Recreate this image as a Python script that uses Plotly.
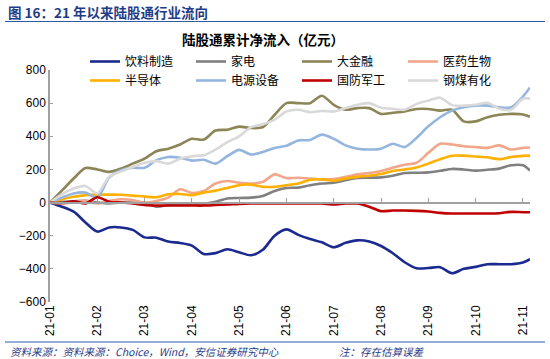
import plotly.graph_objects as go

# month index (0 = 21-01); weekly-ish sampling
months = [0, 0.25, 0.5, 0.75, 1, 1.25, 1.5, 1.75, 2, 2.25, 2.5, 2.75, 3, 3.25, 3.5, 3.75,
          4, 4.25, 4.5, 4.75, 5, 5.25, 5.5, 5.75, 6, 6.25, 6.5, 6.75, 7, 7.25, 7.5, 7.75,
          8, 8.25, 8.5, 8.75, 9, 9.25, 9.5, 9.75, 10, 10.15]

tick_pos = [0, 1, 2, 3, 4, 5, 6, 7, 8, 9, 10]
tick_labels = ["21-01", "21-02", "21-03", "21-04", "21-05", "21-06",
               "21-07", "21-08", "21-09", "21-10", "21-11"]

beverage = [0, -25, -55, -120, -175, -150, -150, -165, -210, -212, -235, -244, -260, -310,
            -305, -282, -300, -318, -285, -200, -162, -195, -220, -240, -270, -243, -228,
            -235, -262, -306, -360, -396, -395, -390, -426, -400, -388, -372, -372, -372,
            -362, -342]
appliance = [0, 5, 8, 10, 0, -5, 0, 0, 0, -25, -15, -10, -10, -8, 5, 25, 28, 30, 40, 70,
             88, 90, 105, 115, 120, 135, 148, 150, 152, 162, 178, 180, 182, 192, 203, 200,
             193, 198, 205, 225, 225, 193]
finance = [0, 72, 145, 208, 200, 185, 205, 235, 265, 310, 325, 350, 385, 380, 435, 440,
           458, 450, 455, 530, 600, 600, 600, 645, 590, 560, 570, 570, 535, 542, 550, 565,
           565, 555, 560, 490, 490, 515, 530, 535, 532, 518]
pharma = [0, -5, 0, 10, -5, 10, 20, 15, 0, 10, 30, 80, 58, 70, 115, 130, 120, 115, 125,
          170, 148, 150, 145, 140, 142, 155, 170, 178, 190, 210, 228, 240, 300, 355, 350,
          340, 335, 330, 345, 320, 330, 332]
semis = [0, 20, 35, 45, 48, 48, 47, 42, 36, 32, 50, 52, 45, 60, 72, 88, 105, 108, 95, 95,
         105, 115, 138, 140, 132, 145, 155, 162, 172, 190, 200, 212, 235, 262, 283, 283,
         278, 273, 262, 275, 282, 283]
power = [0, 30, 55, 60, 30, 150, 195, 210, 210, 255, 275, 270, 253, 258, 235, 280, 318,
         290, 305, 330, 343, 375, 378, 410, 385, 345, 325, 320, 325, 355, 335, 390, 460,
         515, 555, 575, 585, 585, 575, 575, 640, 695]
defense = [0, -3, 8, -5, 32, 5, 0, -5, -15, -18, -18, -18, -18, -18, -15, -12, -8, -6, -6,
           -6, -6, -6, -6, -6, -12, -6, -6, -25, -52, -48, -48, -50, -54, -62, -66, -66,
           -66, -66, -64, -56, -58, -58]
materials = [0, 50, 85, 100, 55, 155, 188, 215, 240, 250, 235, 265, 280, 285, 320, 365,
             400, 455, 472, 500, 550, 560, 545, 553, 550, 570, 590, 600, 572, 566, 560, 595,
             615, 633, 588, 585, 590, 602, 566, 560, 627, 627]

series_names = ["饮料制造", "家电", "大金融", "医药生物", "半导体", "电源设备", "国防军工", "钢煤有化"]
series_values = [beverage, appliance, finance, pharma, semis, power, defense, materials]
series_colors = ["#1B2A8F", "#808080", "#8C8556", "#F2A68A", "#FFB000", "#94B6DE",
                 "#C00000", "#D9D9D9"]

fig = go.Figure()
for name, vals, col in zip(series_names, series_values, series_colors):
    fig.add_trace(go.Scatter(
        x=months, y=vals, name=name, mode="lines",
        line=dict(color=col, width=2.6, shape="spline", smoothing=0.8),
        xaxis="x2" if name == "国防军工" else "x",
        hoverinfo="skip"))

L, R, T, B = 50, 20, 70, 57
W, H = 550, 359
pw, ph = W - L - R, H - T - B


def px(xp):
    return (xp - L) / pw


def py(yp):
    return (H - B - yp) / ph


ymin, ymax = -600, 800
tickfont = dict(family="Liberation Sans, Arial, sans-serif", size=12, color="#000000")

fig.update_layout(
    width=W, height=H,
    margin=dict(l=L, r=R, t=T, b=B, autoexpand=False),
    paper_bgcolor="white", plot_bgcolor="white",
    showlegend=True,
    legend=dict(orientation="h", x=px(85), y=py(47), xanchor="left", yanchor="top",
                entrywidth=61, entrywidthmode="pixels",
                font=dict(family="Noto Sans CJK SC", size=12, color="#000000"),
                bgcolor="rgba(0,0,0,0)", itemwidth=30, tracegroupgap=0),
    xaxis=dict(range=[0, 10.15], tickvals=tick_pos, ticktext=tick_labels,
               tickangle=-90, showgrid=False, zeroline=False, showline=False,
               ticks="", tickfont=tickfont, automargin=False),
    xaxis2=dict(overlaying="x", matches="x", anchor="free",
                position=(0 - ymin) / (ymax - ymin), side="bottom",
                tickvals=tick_pos, showticklabels=False, ticks="inside", ticklen=4,
                tickcolor="#A0A0A0", showline=True, linecolor="#A0A0A0", linewidth=1.5,
                showgrid=False, zeroline=False),
    yaxis=dict(range=[ymin, ymax], tickvals=[-600, -400, -200, 0, 200, 400, 600, 800],
               showgrid=False, zeroline=False, showline=True, linecolor="#A0A0A0",
               linewidth=1.5, ticks="inside", ticklen=3, tickcolor="#A0A0A0",
               tickfont=tickfont, automargin=False),
)

fig.add_annotation(text="<b>图 16：21 年以来陆股通行业流向</b>", xref="paper", yref="paper",
                   x=px(6), y=py(12), xanchor="left", yanchor="middle", showarrow=False,
                   font=dict(family="Noto Sans CJK SC", size=13.5, color="#1F3C88"))
fig.add_shape(type="line", xref="paper", yref="paper", x0=px(5), x1=px(545),
              y0=py(21.5), y1=py(21.5), line=dict(color="#2F5AA8", width=1.2))
fig.add_annotation(text="<b>陆股通累计净流入（亿元）</b>", xref="paper", yref="paper",
                   x=px(263), y=py(39), xanchor="center", yanchor="middle", showarrow=False,
                   font=dict(family="Noto Sans CJK SC", size=13.5, color="#000000"))
fig.add_shape(type="line", xref="paper", yref="paper", x0=px(5), x1=px(545),
              y0=py(342), y1=py(342), line=dict(color="#2F5AA8", width=1))
fig.add_annotation(text="<i>资料来源：资料来源：Choice，Wind，安信证券研究中心</i>",
                   xref="paper", yref="paper", x=px(8), y=py(351.5), xanchor="left",
                   yanchor="middle", showarrow=False,
                   font=dict(family="Noto Sans CJK SC", size=10.5, color="#1F3C88"))
fig.add_annotation(text="<i>注：存在估算误差</i>", xref="paper", yref="paper",
                   x=px(337), y=py(351.5), xanchor="left", yanchor="middle",
                   showarrow=False,
                   font=dict(family="Noto Sans CJK SC", size=10.5, color="#1F3C88"))

fig.write_html("out.html", config={"displayModeBar": False},
               post_script="document.body.style.margin='0';document.body.style.overflow='hidden';")
